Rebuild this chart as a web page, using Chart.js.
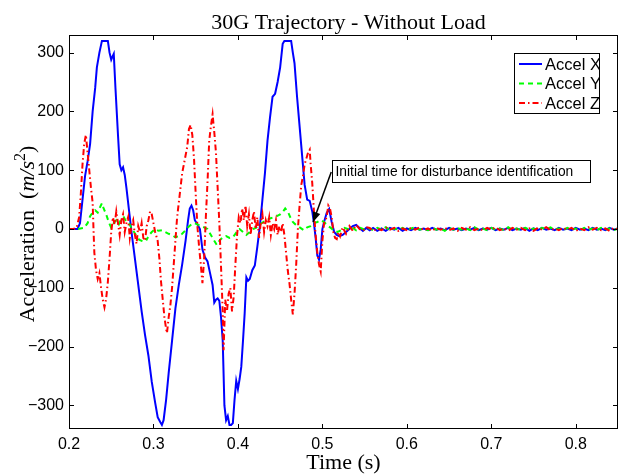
<!DOCTYPE html>
<html>
<head>
<meta charset="utf-8">
<script src="https://cdn.jsdelivr.net/npm/chart.js@4.4.0/dist/chart.umd.min.js"></script>
<style>
html,body{margin:0;padding:0;background:#fff;}
canvas{display:block;}
</style>
</head>
<body>
<canvas id="c" width="622" height="475"></canvas>
<script>
// ---------- DATA ----------
const chartTitle = "30G Trajectory - Without Load";
const xTitle = "Time (s)";
const seriesNames = ["Accel X", "Accel Y", "Accel Z"];
const xTickValues = [0.2, 0.3, 0.4, 0.5, 0.6, 0.7, 0.8];
const yTickValues = [-300, -200, -100, 0, 100, 200, 300];
const annotationText = "Initial time for disturbance identification";

// shared steady-state tail times
const tailTime = [0.556,0.560,0.565,0.570,0.575,0.580,0.585,0.590,0.595,0.600,0.605,0.610,0.615,0.620,0.625,0.630,0.635,0.640,0.645,0.650,0.655,0.660,0.665,0.670,0.675,0.680,0.685,0.690,0.695,0.700,0.705,0.710,0.715,0.720,0.725,0.730,0.735,0.740,0.745,0.750,0.755,0.760,0.765,0.770,0.775,0.780,0.785,0.790,0.795,0.800,0.805,0.810,0.815,0.820,0.825,0.830,0.835,0.840,0.845,0.850];

const accelXTime = [0.200,0.205,0.210,0.213,0.216,0.219,0.222,0.225,0.228,0.231,0.233,0.236,0.239,0.246,0.248,0.250,0.252,0.253,0.255,0.258,0.260,0.262,0.264,0.266,0.268,0.270,0.272,0.274,0.278,0.282,0.286,0.290,0.294,0.298,0.302,0.305,0.308,0.310,0.312,0.315,0.318,0.322,0.326,0.330,0.334,0.338,0.341,0.343,0.345,0.347,0.349,0.352,0.355,0.358,0.361,0.364,0.367,0.370,0.372,0.374,0.376,0.378,0.380,0.382,0.384,0.386,0.388,0.390,0.392,0.394,0.396,0.398,0.400,0.402,0.404,0.406,0.408,0.410,0.412,0.414,0.417,0.420,0.423,0.426,0.429,0.432,0.435,0.438,0.441,0.444,0.447,0.450,0.453,0.455,0.463,0.465,0.467,0.470,0.473,0.476,0.479,0.482,0.485,0.488,0.490,0.492,0.494,0.496,0.498,0.500,0.502,0.505,0.508,0.511,0.514,0.517,0.520,0.524,0.528,0.532,0.536,0.540,0.544,0.548,0.552];
const accelXValue = [0,0,0,10,50,90,115,145,200,240,275,300,320,320,300,288,295,298,240,160,110,100,105,92,70,45,20,-5,-50,-95,-140,-180,-215,-260,-295,-320,-328,-333,-325,-290,-245,-190,-135,-95,-60,-20,15,35,40,32,15,8,0,-35,-48,-55,-75,-95,-125,-120,-118,-122,-150,-190,-300,-325,-318,-333,-333,-330,-290,-258,-272,-255,-234,-190,-143,-82,-88,-85,-70,-62,-30,5,50,95,150,190,225,230,250,275,315,320,320,300,282,225,175,125,75,50,48,30,10,-15,-45,-52,-35,0,12,27,34,12,-5,-10,-12,-10,-5,0,5,7,2,-3,2];
const accelXTail = [-2,2,-3,1,-3,2,-1,2,-3,1,-2,2,-1,1,-2,2,-1,1,-2,2,-1,1,-2,1,-1,2,-2,1,-1,2,-2,1,-1,2,-2,1,-1,2,-3,1,-2,2,-1,1,-2,2,-1,1,-2,2,-1,1,-2,2,-1,1,-2,2,-1,1];

const accelYTime = [0.200,0.210,0.218,0.222,0.225,0.228,0.231,0.234,0.237,0.239,0.241,0.244,0.247,0.250,0.253,0.256,0.259,0.262,0.265,0.268,0.271,0.274,0.277,0.280,0.283,0.286,0.289,0.292,0.295,0.298,0.302,0.306,0.310,0.314,0.318,0.322,0.326,0.330,0.334,0.338,0.341,0.345,0.349,0.352,0.356,0.360,0.364,0.368,0.372,0.375,0.378,0.382,0.386,0.390,0.394,0.398,0.402,0.406,0.410,0.414,0.418,0.422,0.426,0.430,0.434,0.438,0.442,0.446,0.450,0.453,0.456,0.459,0.462,0.465,0.468,0.471,0.474,0.478,0.482,0.486,0.490,0.494,0.498,0.502,0.506,0.510,0.514,0.518,0.522,0.526,0.530,0.535,0.540,0.545,0.550];
const accelYValue = [0,0,2,10,22,28,32,28,38,44,35,25,12,2,10,15,8,18,20,12,10,2,-5,-12,-18,-20,-15,-18,-10,-5,0,-3,-2,-5,-8,-10,-14,-12,-8,-2,3,8,10,8,5,3,0,-10,-20,-27,-20,-14,-12,-15,-14,-6,0,-5,-10,-5,0,3,8,12,15,18,20,22,25,29,35,30,20,12,8,5,2,-2,3,5,10,12,15,12,6,2,-3,-5,-2,2,0,3,-2,2,-1];
const accelYTail = [1,-2,2,-1,3,-2,1,-1,2,-2,1,3,-1,1,-2,2,-1,1,-3,2,-1,2,-1,1,-2,3,-1,1,-2,2,-1,1,-2,3,-1,1,-2,2,-1,1,-2,2,-1,3,-1,1,-2,2,-1,1,-2,2,-1,1,-2,2,-1,1,-2,1];

const accelZTime = [0.200,0.205,0.209,0.212,0.214,0.216,0.218,0.220,0.222,0.224,0.226,0.228,0.229,0.230,0.232,0.234,0.236,0.238,0.240,0.242,0.244,0.246,0.248,0.250,0.252,0.254,0.256,0.258,0.260,0.262,0.264,0.266,0.268,0.270,0.272,0.274,0.276,0.278,0.280,0.282,0.284,0.286,0.288,0.290,0.292,0.294,0.296,0.298,0.300,0.302,0.305,0.307,0.309,0.311,0.313,0.315,0.316,0.318,0.320,0.322,0.324,0.326,0.328,0.330,0.332,0.334,0.336,0.338,0.340,0.342,0.344,0.346,0.348,0.350,0.352,0.354,0.356,0.358,0.360,0.362,0.364,0.366,0.368,0.370,0.372,0.374,0.376,0.378,0.380,0.382,0.383,0.385,0.387,0.389,0.391,0.393,0.395,0.397,0.399,0.401,0.403,0.405,0.407,0.409,0.411,0.413,0.415,0.417,0.419,0.421,0.423,0.425,0.427,0.429,0.431,0.433,0.435,0.437,0.439,0.441,0.443,0.445,0.447,0.449,0.451,0.453,0.455,0.457,0.459,0.461,0.463,0.465,0.467,0.469,0.471,0.473,0.475,0.477,0.479,0.481,0.483,0.485,0.486,0.488,0.490,0.492,0.494,0.496,0.498,0.500,0.502,0.505,0.507,0.509,0.511,0.513,0.515,0.517,0.519,0.521,0.524,0.528,0.532,0.536,0.540,0.544,0.548,0.552];
const accelZValue = [0,0,2,20,60,110,145,160,130,100,70,45,0,-40,-70,-85,-75,-100,-120,-133,-118,-90,-50,-5,20,8,30,10,-10,15,25,-5,10,20,-15,5,15,-10,-25,5,-5,10,-15,-20,5,15,30,25,10,-5,-20,-50,-90,-120,-150,-170,-177,-150,-130,-100,-60,-20,20,45,70,95,110,125,140,170,177,160,120,60,5,-30,-60,-92,-50,20,80,150,175,195,165,130,70,10,-64,-140,-206,-120,-140,-110,-100,-140,-115,-60,-10,20,10,35,15,40,5,25,-10,15,30,0,20,-15,10,25,-5,15,5,20,-10,10,0,15,-10,5,-5,10,-10,-40,-70,-92,-120,-145,-110,-60,0,40,75,90,110,120,130,135,112,78,30,-10,-40,-60,-72,-20,10,20,40,35,20,-5,-15,-17,-5,-12,3,-8,5,-3,7,0,-3,3];
const accelZTail = [2,-3,1,-2,3,-1,2,-3,1,-2,2,-1,3,-2,1,-3,2,-1,2,-2,1,-3,2,-1,3,-2,1,-2,2,-1,3,-2,1,-3,2,-1,2,-2,1,-3,2,-1,3,-2,1,-2,2,-1,2,-3,1,-2,3,-1,2,-2,1,-3,2,-1];

// annotation anchors in data units
const arrowTip = {x: 0.489, y: 12};
const arrowTail = {x: 0.5105, y: 97};
const noteBox = {x0: 0.5117, x1: 0.8163, y0: 117, y1: 80};

// ---------- BUILD ----------
function toPoints(t, v, tt, tv) {
  const pts = t.map((x, i) => ({x: x, y: v[i]}));
  tt.forEach((x, i) => pts.push({x: x, y: tv[i]}));
  return pts;
}
const sans = "'Liberation Sans', Arial, Helvetica, sans-serif";
const serif = "'Liberation Serif', 'Times New Roman', Times, serif";

const frameAndText = {
  id: 'frameAndText',
  afterDraw(chart) {
    const ctx = chart.ctx;
    const a = chart.chartArea;
    const xs = chart.scales.x, ys = chart.scales.y;
    ctx.save();
    // frame
    ctx.strokeStyle = '#000';
    ctx.lineWidth = 1;
    ctx.strokeRect(Math.round(a.left) + 0.5, Math.round(a.top) + 0.5, Math.round(a.right - a.left) - 1, Math.round(a.bottom - a.top) - 1);
    // inward ticks on all four sides
    const tl = 5;
    ctx.beginPath();
    xTickValues.forEach(v => {
      const px = Math.round(xs.getPixelForValue(v)) + 0.5;
      ctx.moveTo(px, a.bottom); ctx.lineTo(px, a.bottom - tl);
      ctx.moveTo(px, a.top); ctx.lineTo(px, a.top + tl);
    });
    yTickValues.forEach(v => {
      const py = Math.round(ys.getPixelForValue(v)) + 0.5;
      ctx.moveTo(a.left, py); ctx.lineTo(a.left + tl, py);
      ctx.moveTo(a.right, py); ctx.lineTo(a.right - tl, py);
    });
    ctx.stroke();

    // title
    ctx.fillStyle = '#000';
    ctx.font = '22px ' + serif;
    ctx.textAlign = 'center';
    ctx.textBaseline = 'alphabetic';
    ctx.fillText(chartTitle, (a.left + a.right) / 2 + 5, 29);
    // x title
    ctx.fillText(xTitle, (a.left + a.right) / 2, 469);
    // y title with italic math
    ctx.save();
    ctx.translate(34, (a.top + a.bottom) / 2 + 2);
    ctx.rotate(-Math.PI / 2);
    const parts = [
      {t: 'Acceleration  (', f: '22px ' + serif, dy: 0},
      {t: 'm/s', f: 'italic 22px ' + serif, dy: 0},
      {t: '2', f: '16px ' + serif, dy: -9},
      {t: ')', f: '22px ' + serif, dy: 0}
    ];
    let total = 0;
    parts.forEach(p => { ctx.font = p.f; p.w = ctx.measureText(p.t).width; total += p.w; });
    let cx = -total / 2;
    ctx.textAlign = 'left';
    parts.forEach(p => { ctx.font = p.f; ctx.fillText(p.t, cx, p.dy); cx += p.w; });
    ctx.restore();

    // legend
    const lx = 514, ly = 53, lw = 85, lh = 60;
    ctx.fillStyle = '#fff';
    ctx.fillRect(lx, ly, lw, lh);
    ctx.strokeStyle = '#000';
    ctx.lineWidth = 1;
    ctx.strokeRect(lx + 0.5, ly + 0.5, lw, lh);
    chart.data.datasets.forEach((ds, i) => {
      const yy = ly + 11 + i * 19.5;
      ctx.save();
      ctx.strokeStyle = ds.borderColor;
      ctx.lineWidth = ds.borderWidth;
      ctx.setLineDash(ds.borderDash || []);
      ctx.beginPath();
      ctx.moveTo(lx + 5, yy); ctx.lineTo(lx + 28, yy);
      ctx.stroke();
      ctx.restore();
      ctx.save();
      ctx.beginPath();
      ctx.rect(lx, ly, lw, lh);
      ctx.clip();
      ctx.fillStyle = '#000';
      ctx.font = '16.5px ' + sans;
      ctx.textAlign = 'left';
      ctx.textBaseline = 'middle';
      ctx.fillText(ds.label, lx + 31, yy + 1);
      ctx.restore();
    });

    // annotation arrow
    const tx = xs.getPixelForValue(arrowTip.x), ty = ys.getPixelForValue(arrowTip.y);
    const sx = xs.getPixelForValue(arrowTail.x), sy = ys.getPixelForValue(arrowTail.y);
    ctx.strokeStyle = '#000';
    ctx.fillStyle = '#000';
    ctx.lineWidth = 1.5;
    ctx.beginPath(); ctx.moveTo(sx, sy); ctx.lineTo(tx, ty); ctx.stroke();
    const ang = Math.atan2(ty - sy, tx - sx);
    const hl = 10, hw = 4;
    ctx.beginPath();
    ctx.moveTo(tx, ty);
    ctx.lineTo(tx - hl * Math.cos(ang) + hw * Math.sin(ang), ty - hl * Math.sin(ang) - hw * Math.cos(ang));
    ctx.lineTo(tx - hl * Math.cos(ang) - hw * Math.sin(ang), ty - hl * Math.sin(ang) + hw * Math.cos(ang));
    ctx.closePath(); ctx.fill();
    // annotation box
    const bx0 = Math.round(xs.getPixelForValue(noteBox.x0)) + 0.5;
    const bx1 = Math.round(xs.getPixelForValue(noteBox.x1)) + 0.5;
    const by0 = Math.round(ys.getPixelForValue(noteBox.y0)) + 0.5;
    const by1 = Math.round(ys.getPixelForValue(noteBox.y1)) + 0.5;
    ctx.fillStyle = '#fff';
    ctx.fillRect(bx0, by0, bx1 - bx0, by1 - by0);
    ctx.lineWidth = 1;
    ctx.strokeRect(bx0, by0, bx1 - bx0, by1 - by0);
    ctx.fillStyle = '#000';
    ctx.font = '13.8px ' + sans;
    ctx.textAlign = 'left';
    ctx.textBaseline = 'middle';
    ctx.fillText(annotationText, bx0 + 3, (by0 + by1) / 2 + 1);
    ctx.restore();
  }
};

const tickFont = {family: sans, size: 16};
const fmt = v => (v < 0 ? '\u2212' + Math.abs(v) : String(v));

new Chart(document.getElementById('c'), {
  type: 'line',
  data: {
    datasets: [
      {label: seriesNames[0], data: toPoints(accelXTime, accelXValue, tailTime, accelXTail), borderColor: '#0000ff', borderWidth: 2, pointRadius: 0, tension: 0, order: 2},
      {label: seriesNames[1], data: toPoints(accelYTime, accelYValue, tailTime, accelYTail), borderColor: '#00ff00', borderWidth: 2, borderDash: [5, 4], pointRadius: 0, tension: 0, order: 1},
      {label: seriesNames[2], data: toPoints(accelZTime, accelZValue, tailTime, accelZTail), borderColor: '#ff0000', borderWidth: 2, borderDash: [6, 3, 1.5, 3], pointRadius: 0, tension: 0, order: 0}
    ]
  },
  options: {
    responsive: false,
    animation: false,
    devicePixelRatio: 1,
    layout: {padding: {top: 35, right: 4, left: 0, bottom: 0}},
    plugins: {legend: {display: false}, tooltip: {enabled: false}, title: {display: false}},
    scales: {
      x: {
        type: 'linear', min: 0.2, max: 0.85,
        grid: {display: false}, border: {display: false},
        afterBuildTicks: s => { s.ticks = xTickValues.map(v => ({value: v})); },
        afterFit: s => { s.height = 46; },
        ticks: {font: tickFont, color: '#000', padding: -2, maxRotation: 0, autoSkip: false, callback: v => v.toFixed(1)}
      },
      y: {
        type: 'linear', min: -340, max: 330,
        grid: {display: false}, border: {display: false},
        afterBuildTicks: s => { s.ticks = yTickValues.map(v => ({value: v})); },
        afterFit: s => { s.width = 69; },
        ticks: {font: tickFont, color: '#000', padding: -3, autoSkip: false, callback: v => fmt(v)}
      }
    }
  },
  plugins: [frameAndText]
});
</script>
</body>
</html>
